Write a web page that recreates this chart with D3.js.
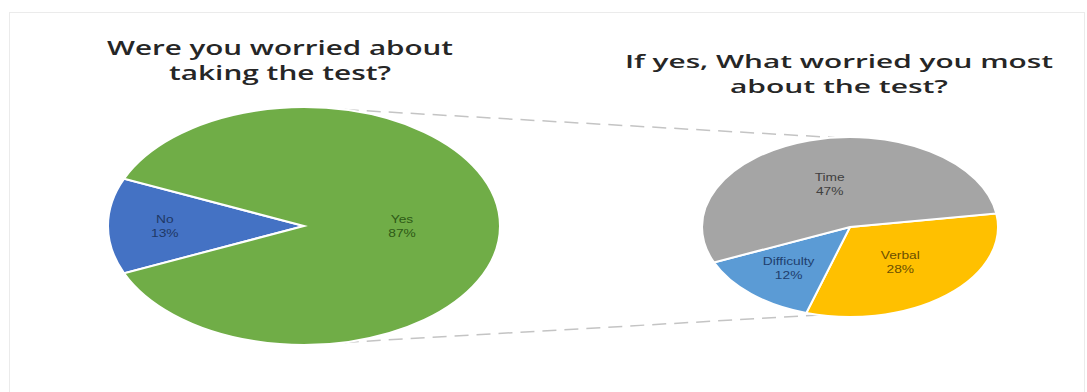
<!DOCTYPE html>
<html>
<head>
<meta charset="utf-8">
<script src="https://cdn.jsdelivr.net/npm/d3@7"></script>
<style>
  body { margin: 0; background: #fff; }
  .title { font-family: "Open Sans", sans-serif; font-weight: 600; fill: #262626; }
  .label { font-family: "Liberation Sans", sans-serif; font-size: 11px; }
</style>
</head>
<body>
<svg id="chart" width="1087" height="392"></svg>
<script>
// Main pie: worried or not
const mainCategories = ['No', 'Yes'];
const mainValues = [13, 87];
// Secondary pie: breakdown of "Yes"
const subCategories = ['Verbal', 'Difficulty', 'Time'];
const subValues = [28, 12, 47];

const mainColors = ['#4472C4', '#70AD47'];
const mainText = ['#1F3864', '#2E5A16'];
const subColors = ['#FFC000', '#5B9BD5', '#A5A5A5'];
const subText = ['#6B4F00', '#1F3F6E', '#404040'];

const chart = d3.select('#chart');
const deg = Math.PI / 180;

chart.append('rect')
  .attr('x', 9.5).attr('y', 12.5).attr('width', 1075).attr('height', 400)
  .attr('fill', 'none').attr('stroke', '#ebebeb');

// Draws an elliptical pie: arcs built on radius rx, then squashed vertically.
function drawPie(opts) {
  const {cx, cy, rx, ry, values, names, colors, textColors, start, labelR} = opts;
  const pie = d3.pie().sort(null).value(d => d)
    .startAngle(start * deg).endAngle(start * deg + 2 * Math.PI);
  const arcs = pie(values);
  const arc = d3.arc().innerRadius(0).outerRadius(rx);

  const g = chart.append('g')
    .attr('transform', `translate(${cx},${cy}) scale(1,${ry / rx})`);
  g.selectAll('path').data(arcs).join('path')
    .attr('d', arc)
    .attr('fill', (d, i) => colors[i])
    .attr('stroke', '#fff')
    .attr('stroke-width', 2)
    .attr('vector-effect', 'non-scaling-stroke');

  arcs.forEach((d, i) => {
    const mid = (d.startAngle + d.endAngle) / 2;
    const x = cx + Math.sin(mid) * rx * labelR[i];
    const y = cy - Math.cos(mid) * ry * labelR[i];
    const t = chart.append('text')
      .attr('class', 'label')
      .attr('text-anchor', 'middle')
      .attr('fill', textColors[i])
      .attr('transform', `translate(${x},${y}) scale(1.25,1)`);
    t.append('tspan').attr('x', 0).attr('y', -3).text(names[i]);
    t.append('tspan').attr('x', 0).attr('y', 11).text(d.value + '%');
  });
}

// Ellipse geometry
const L = {cx: 304, cy: 226, rx: 196, ry: 119};
const R = {cx: 850, cy: 227, rx: 148, ry: 90};

// Connector lines (drawn first, pies on top)
const ept = (p, a) => [p.cx + p.rx * Math.cos(a * deg), p.cy + p.ry * Math.sin(a * deg)];
[[-78, -96], [78, 102]].forEach(([a1, a2]) => {
  const [x1, y1] = ept(L, a1);
  const [x2, y2] = ept(R, a2);
  chart.append('line')
    .attr('x1', x1).attr('y1', y1).attr('x2', x2).attr('y2', y2)
    .attr('stroke', '#c4c4c4').attr('stroke-width', 1.5)
    .attr('stroke-dasharray', '14 8');
});

drawPie({...L, values: mainValues, names: mainCategories, colors: mainColors,
  textColors: mainText, start: 246.6, labelR: [0.71, 0.5]});
drawPie({...R, values: subValues, names: subCategories, colors: subColors,
  textColors: subText, start: 81.3, labelR: [0.52, 0.62, 0.5]});

// Titles
const titles = [
  {x: 280, y: 55, lines: ['Were you worried about', 'taking the test?'], w: [346, 222], size: 19},
  {x: 839, y: 68, lines: ['If yes, What worried you most', 'about the test?'], w: [428, 218], size: 18}
];
titles.forEach(t => {
  t.lines.forEach((line, i) => {
    chart.append('text')
      .attr('class', 'title')
      .attr('x', t.x - t.w[i] / 2)
      .attr('y', t.y + i * 25)
      .attr('font-size', t.size)
      .attr('textLength', t.w[i])
      .attr('lengthAdjust', 'spacingAndGlyphs')
      .text(line);
  });
});
</script>
</body>
</html>
